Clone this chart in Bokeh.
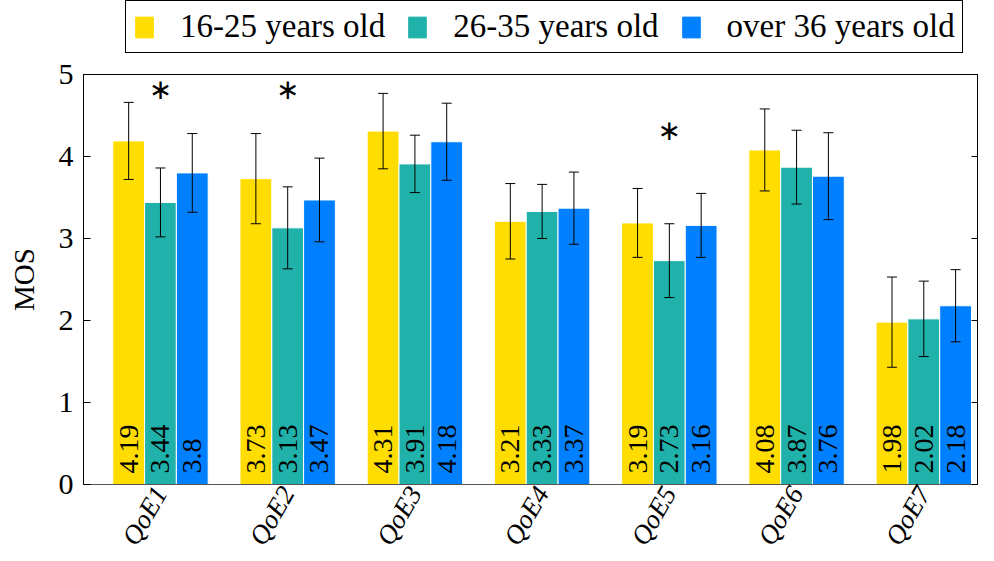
import math
from bokeh.plotting import figure
from bokeh.layouts import column
from bokeh.models import (ColumnDataSource, Range1d, LinearAxis, Whisker, TeeHead,
                          Legend, LegendItem, FixedTicker, CustomJSTickFormatter)
from bokeh.core.properties import value
from bokeh.transform import dodge
from bokeh.embed import file_html
from bokeh.resources import INLINE

# ---------------- data ----------------
categories = ["QoE1", "QoE2", "QoE3", "QoE4", "QoE5", "QoE6", "QoE7"]
groups = ["16-25 years old", "26-35 years old", "over 36 years old"]
mos_16_25 = [4.19, 3.73, 4.31, 3.21, 3.19, 4.08, 1.98]
mos_26_35 = [3.44, 3.13, 3.91, 3.33, 2.73, 3.87, 2.02]
mos_over36 = [3.80, 3.47, 4.18, 3.37, 3.16, 3.76, 2.18]
ci_16_25 = [0.47, 0.55, 0.46, 0.46, 0.42, 0.50, 0.55]
ci_26_35 = [0.42, 0.50, 0.35, 0.33, 0.45, 0.45, 0.46]
ci_over36 = [0.48, 0.51, 0.47, 0.44, 0.39, 0.53, 0.44]
sig_categories = ["QoE1", "QoE2", "QoE5"]
sig_y = [4.82, 4.82, 4.32]
y_ticks = [0, 1, 2, 3, 4, 5]

colors = ["#FFDD00", "#20B2AA", "#0080FF"]
series = [mos_16_25, mos_26_35, mos_over36]
cis = [ci_16_25, ci_26_35, ci_over36]
offsets = [-0.25, 0.0, 0.25]

SERIF = "Liberation Serif"
LEFT = 83
FRAME_W = 895

xpos = [i + 1 for i in range(len(categories))]

# ---------------- main chart ----------------
p = figure(frame_width=FRAME_W, frame_height=410, output_backend="svg",
           toolbar_location=None,
           x_range=Range1d(0.395, 7.43), y_range=Range1d(0, 5),
           min_border_left=LEFT, min_border_right=0, min_border_bottom=0,
           min_border_top=20)

p.xgrid.visible = False
p.ygrid.visible = False
p.outline_line_color = "black"
p.outline_line_width = 1
p.outline_line_alpha = 1

# ---------------- legend strip ----------------
leg = figure(frame_width=FRAME_W, frame_height=54, output_backend="svg",
             toolbar_location=None, x_axis_type=None, y_axis_type=None,
             x_range=Range1d(0.395, 7.43), y_range=Range1d(10, 11),
             min_border_left=LEFT, min_border_right=0, min_border_top=0,
             min_border_bottom=0)
leg.outline_line_color = None
leg.xgrid.visible = False
leg.ygrid.visible = False

items = []
for name, vals, ci, col, off in zip(groups, series, cis, colors, offsets):
    src = ColumnDataSource(dict(
        x=xpos, top=vals,
        upper=[v + c for v, c in zip(vals, ci)],
        lower=[v - c for v, c in zip(vals, ci)],
        label=[str(v) for v in vals],
    ))
    p.vbar(x=dodge("x", off), top="top", width=0.25, source=src,
           fill_color=col, line_color="white", line_width=1)
    w = Whisker(base=dodge("x", off), upper="upper", lower="lower", source=src,
                level="overlay", line_color="black", line_width=1,
                upper_head=TeeHead(size=10, line_color="black", line_width=1),
                lower_head=TeeHead(size=10, line_color="black", line_width=1))
    p.add_layout(w)
    p.text(x=dodge("x", off), y=0, text="label", source=src, angle=math.pi / 2,
           text_align="left", text_baseline="middle", y_offset=-11,
           text_font=value("'Liberation Serif'"), text_font_size="28px",
           text_color="black")
    # same bars in the legend strip (outside its visible range) -> legend swatches
    rl = leg.vbar(x=dodge("x", off), top="top", width=0.25, source=src,
                  fill_color=col, line_color=col, line_width=1)
    items.append(LegendItem(label=name, renderers=[rl]))

sig_x = [categories.index(c) + 1 for c in sig_categories]
p.text(x=sig_x, y=sig_y, text=["\u2217"] * len(sig_x), text_align="center",
       text_baseline="middle", text_font=value("DejaVu Sans"),
       text_font_size="28px", text_color="black")

# axes
p.yaxis.ticker = FixedTicker(ticks=y_ticks)
p.yaxis.minor_tick_line_color = None
p.yaxis.major_tick_in = 7
p.yaxis.major_tick_out = 0
p.yaxis.major_label_text_font = SERIF
p.yaxis.major_label_text_font_size = "30px"
p.yaxis.major_label_text_color = "black"
p.yaxis.major_label_standoff = 10
p.yaxis.axis_label = "MOS"
p.yaxis.axis_label_text_font = SERIF
p.yaxis.axis_label_text_font_style = "normal"
p.yaxis.axis_label_text_font_size = "29px"
p.yaxis.axis_label_text_color = "black"
p.yaxis.axis_label_standoff = 16
p.yaxis.axis_line_color = "black"

p.xaxis.ticker = FixedTicker(ticks=xpos)
p.xaxis.major_label_overrides = {x: c for x, c in zip(xpos, categories)}
p.xaxis.major_tick_in = 0
p.xaxis.major_tick_out = 0
p.xaxis.minor_tick_line_color = None
p.xaxis.major_label_orientation = math.pi / 3
p.xaxis.major_label_text_font = SERIF
p.xaxis.major_label_text_font_style = "italic"
p.xaxis.major_label_text_font_size = "27px"
p.xaxis.major_label_text_color = "black"
p.xaxis.major_label_standoff = 4
p.xaxis.axis_line_color = "#555555"

right = LinearAxis(ticker=FixedTicker(ticks=y_ticks),
                   formatter=CustomJSTickFormatter(code="return ''"),
                   major_tick_in=7, major_tick_out=0, minor_tick_line_color=None,
                   axis_line_color="black", major_label_standoff=0)
p.add_layout(right, "right")

legend = Legend(items=items, orientation="horizontal", location=(42, 1),
                label_text_font=SERIF, label_text_font_size="33px",
                label_text_color="black",
                border_line_color="black", border_line_width=1, border_line_alpha=1,
                glyph_width=22, glyph_height=26, label_standoff=25, spacing=21,
                padding=7, margin=0)
leg.add_layout(legend, "center")

layout = column(leg, p, spacing=0)
open("out.html", "w").write(file_html(layout, INLINE))
